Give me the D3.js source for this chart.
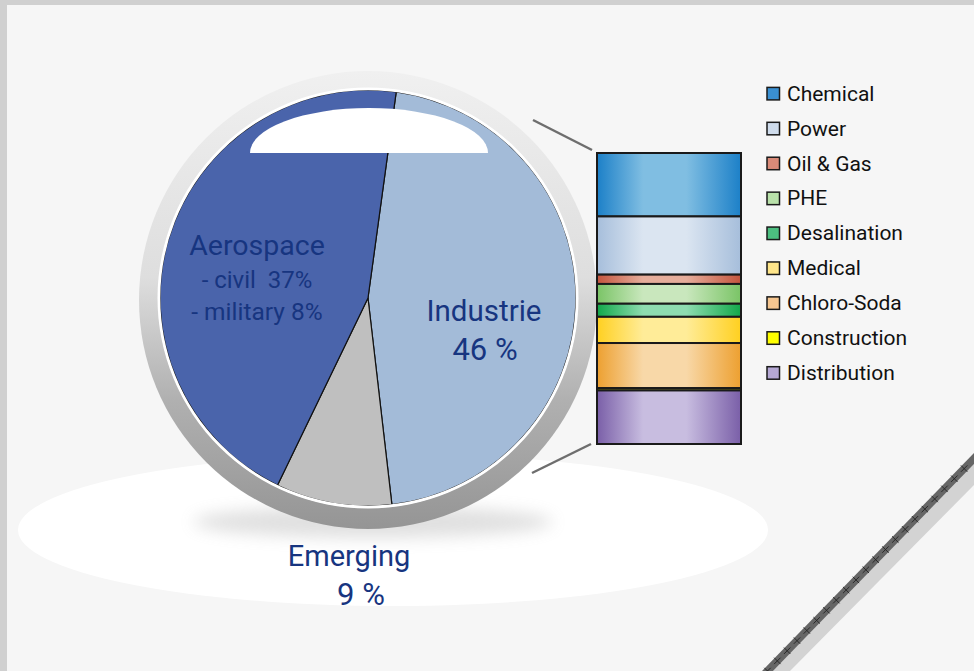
<!DOCTYPE html>
<html>
<head>
<meta charset="utf-8">
<script src="https://cdn.jsdelivr.net/npm/d3@7/dist/d3.min.js"></script>
<style>
  html, body { margin: 0; padding: 0; background: #d0d0d0; }
  svg { display: block; }
  text { font-family: Roboto, "Noto Sans", sans-serif; }
</style>
</head>
<body>
<svg id="chart" width="974" height="671"></svg>
<script>
// ---------- data ----------
const pieCategories = ["Industrie", "Emerging", "Aerospace"];
const pieValues = [46, 9, 45];
const pieColors = ["#a3bbd8", "#bfbfbf", "#4a64ab"];
const pieLabelLines = [
  ["Industrie", "46 %"],
  ["Emerging", "9 %"],
  ["Aerospace", "- civil  37%", "- military 8%"]
];

const barCategories = ["Chemical", "Power", "Oil & Gas", "PHE", "Desalination",
                       "Medical", "Chloro-Soda", "Construction", "Distribution"];
const barValues = [21.8, 20.0, 3.2, 6.8, 4.5, 9.0, 15.5, 0.8, 18.4];
const barEdgeColors   = ["#1c80c8", "#a6bedb", "#c4553e", "#7ac466", "#12a84a",
                         "#ffd020", "#eda030", "#ffff00", "#7a5fa8"];
const barCenterColors = ["#80bee2", "#dbe5f1", "#e6ad9b", "#c9e7bd", "#8edcb0",
                         "#ffec98", "#f8d8a8", "#ffff60", "#c8bde0"];
const legendColors    = ["#3a90d2", "#cfdcec", "#d98a78", "#b9e1aa", "#4cbf80",
                         "#ffe68a", "#f6c690", "#ffff00", "#b5a8d4"];

// ---------- setup ----------
const svg = d3.select("#chart");
const defs = svg.append("defs");
const textColor = "#173580";

// background panel
svg.append("rect").attr("x", 7).attr("y", 5).attr("width", 967).attr("height", 666).attr("fill", "#f6f6f6");

// floor ellipse
svg.append("ellipse").attr("cx", 393).attr("cy", 530).attr("rx", 375).attr("ry", 76).attr("fill", "#ffffff");

// diagonal decoration (bottom right)
svg.append("polygon").attr("points", "773,671 974,464 974,485 790,671").attr("fill", "#d3d3d3");
svg.append("polygon").attr("points", "762,671 974,453 974,464 773,671").attr("fill", "#666666");
const crossG = svg.append("g").attr("stroke", "#222").attr("stroke-width", 0.9);
for (let t = 0; t <= 1; t += 1 / 21) {
  const px = 767.5 + t * (974 - 767.5);
  const py = 671 + t * (458.5 - 671);
  crossG.append("path").attr("d", `M${px-3.2},${py-3.2}L${px+3.2},${py+3.2}M${px-3.2},${py+3.2}L${px+3.2},${py-3.2}`);
}

// ---------- pie ----------
const cx = 368, cy = 298, R = 208;
const a0 = 7.8 * Math.PI / 180;

// shadow under bezel
const blur = defs.append("filter").attr("id", "blur").attr("x", "-50%").attr("y", "-50%").attr("width", "200%").attr("height", "200%");
blur.append("feGaussianBlur").attr("stdDeviation", 8);
svg.append("ellipse").attr("cx", cx + 5).attr("cy", 522).attr("rx", 180).attr("ry", 16)
  .attr("fill", "#9a9a9a").attr("opacity", 0.3).attr("filter", "url(#blur)");

// bezel gradient
const bz = defs.append("linearGradient").attr("id", "bezel").attr("x1", 0).attr("y1", 0).attr("x2", 0).attr("y2", 1);
[[0, "#f0f0f0"], [0.45, "#dedede"], [0.72, "#b0b0b0"], [1, "#959595"]].forEach(([o, c]) =>
  bz.append("stop").attr("offset", o).attr("stop-color", c));
svg.append("circle").attr("cx", cx).attr("cy", 300).attr("r", 229).attr("fill", "url(#bezel)");
svg.append("circle").attr("cx", cx).attr("cy", cy).attr("r", 210.5).attr("fill", "#ffffff");

const pie = d3.pie().sort(null).value(d => d).startAngle(a0).endAngle(a0 + 2 * Math.PI);
const arc = d3.arc().innerRadius(0).outerRadius(R);
const arcs = pie(pieValues);
const pieG = svg.append("g").attr("transform", `translate(${cx},${cy})`);
pieG.selectAll("path").data(arcs).join("path")
  .attr("d", arc)
  .attr("fill", (d, i) => pieColors[i])
  .attr("stroke", "#111").attr("stroke-width", 1.2).attr("stroke-linejoin", "round");
pieG.append("circle").attr("r", R + 0.8).attr("fill", "none").attr("stroke", "#ffffff").attr("stroke-width", 2.2);

// white highlight (top half of an ellipse)
const hx = 369, hy = 153, hrx = 119, hry = 45;
svg.append("path")
  .attr("d", `M${hx - hrx},${hy} A${hrx},${hry} 0 0 1 ${hx + hrx},${hy} Z`)
  .attr("fill", "#ffffff");

// pie labels
const labelPos = [
  { x: 484, y: 321, sizes: [29.5, 31], dy: [0, 39], dx: [0, 1] },
  { x: 349, y: 566, sizes: [29, 31], dy: [0, 39], dx: [0, 12] },
  { x: 257, y: 255, sizes: [28.5, 24, 24.5], dy: [0, 33, 65], dx: [0, 0, 0] }
];
labelPos.forEach((p, i) => {
  const t = svg.append("g");
  pieLabelLines[i].forEach((line, j) => {
    t.append("text")
      .attr("x", p.x + p.dx[j])
      .attr("y", p.y + p.dy[j])
      .attr("text-anchor", "middle")
      .attr("font-size", p.sizes[j])
      .attr("fill", textColor)
      .style("white-space", "pre")
      .text(line);
  });
});

// ---------- stacked bar ----------
const barX = 597, barW = 144, barTop = 153, barBottom = 444;
const total = d3.sum(barValues);
const y = d3.scaleLinear().domain([0, total]).range([barTop, barBottom]);
let acc = 0;
const stacked = barValues.map((v, i) => { const s = acc; acc += v; return { i, y0: s, y1: acc }; });

barCategories.forEach((c, i) => {
  const g = defs.append("linearGradient").attr("id", "bg" + i).attr("x1", 0).attr("x2", 1).attr("y1", 0).attr("y2", 0);
  [[0, barEdgeColors[i]], [0.32, barCenterColors[i]], [0.62, barCenterColors[i]], [1, barEdgeColors[i]]]
    .forEach(([o, col]) => g.append("stop").attr("offset", o).attr("stop-color", col));
});

svg.append("g").selectAll("rect").data(stacked).join("rect")
  .attr("x", barX).attr("width", barW)
  .attr("y", d => y(d.y0))
  .attr("height", d => y(d.y1) - y(d.y0))
  .attr("fill", d => `url(#bg${d.i})`)
  .attr("stroke", "#1a1a1a").attr("stroke-width", 2);

// connector lines
svg.append("line").attr("x1", 533).attr("y1", 120).attr("x2", 592).attr("y2", 150)
  .attr("stroke", "#6e6e6e").attr("stroke-width", 2.5);
svg.append("line").attr("x1", 532).attr("y1", 473).attr("x2", 591).attr("y2", 444)
  .attr("stroke", "#6e6e6e").attr("stroke-width", 2.5);

// ---------- legend ----------
const legend = svg.append("g");
const ly = d3.scalePoint().domain(barCategories).range([100.7, 380]);
const items = legend.selectAll("g").data(barCategories).join("g")
  .attr("transform", d => `translate(0,${ly(d)})`);
items.append("rect").attr("x", 767).attr("y", -13.3).attr("width", 12.5).attr("height", 12.5)
  .attr("fill", (d, i) => legendColors[i]).attr("stroke", "#1a1a1a").attr("stroke-width", 1.5);
items.append("text").attr("x", 787).attr("y", 0).attr("font-size", 21).attr("fill", "#111")
  .text(d => d);
</script>
</body>
</html>
